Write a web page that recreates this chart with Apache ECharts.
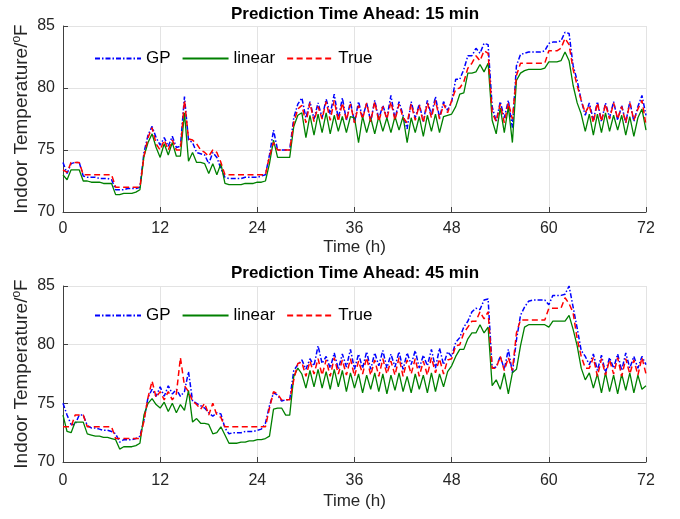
<!DOCTYPE html>
<html>
<head>
<meta charset="utf-8">
<script src="https://cdn.jsdelivr.net/npm/echarts@6/dist/echarts.min.js"></script>
<style>
  html, body { margin: 0; padding: 0; background: #fff; }
  #chart { width: 680px; height: 519px; }
</style>
</head>
<body>
<div id="chart"></div>
<script>
// sampling times (h), one reading every 30 min
const hours = Array.from({ length: 145 }, (_, i) => i * 0.5);
const xTicks = [0, 12, 24, 36, 48, 60, 72];
const yTicks = [70, 75, 80, 85];
const titles = ["Prediction Time Ahead: 15 min", "Prediction Time Ahead: 45 min"];
const seriesNames = ["GP", "linear", "True"];

// 15 min ahead
const gp15 = [
  74.0, 73.1, 73.9, 74.0, 74.0, 72.9, 72.8, 72.8, 72.8, 72.7, 72.7, 72.7,
  72.6, 71.8, 71.8, 71.8, 71.9, 71.9, 71.9, 72.0, 74.8, 76.2, 76.9, 76.0,
  75.4, 76.0, 75.3, 76.1, 75.2, 75.3, 79.3, 75.8, 75.6, 74.8, 74.7, 74.6,
  73.9, 74.8, 74.4, 73.5, 72.8, 72.7, 72.7, 72.7, 72.7, 72.8, 72.8, 72.8,
  72.8, 72.9, 73.0, 74.6, 76.6, 75.0, 75.0, 75.0, 75.0, 77.6, 78.7, 79.2,
  77.6, 78.9, 77.5, 78.8, 77.6, 79.1, 77.9, 79.5, 77.5, 79.2, 77.4, 78.9,
  77.2, 78.9, 77.6, 78.8, 77.3, 79.0, 77.5, 78.6, 77.6, 79.4, 77.5, 78.9,
  77.8, 76.7, 78.9, 77.6, 78.7, 77.3, 79.0, 77.8, 79.3, 77.6, 78.9, 78.2,
  78.9, 80.7, 80.7, 81.5, 82.6, 82.6, 83.2, 82.8, 83.6, 83.5, 78.5, 77.3,
  78.9, 77.6, 79.0, 76.8, 81.8, 82.7, 82.8, 82.9, 82.9, 82.9, 82.9, 83.0,
  83.6, 83.7, 83.7, 83.8, 84.5, 84.4, 81.8, 80.6, 79.0, 77.8, 78.8, 77.4,
  78.9, 77.3, 78.8, 77.6, 78.9, 77.4, 78.6, 77.2, 78.9, 77.3, 78.5, 79.4,
  77.8
];
const linear15 = [
  73.0, 72.6, 73.4, 73.4, 73.4, 72.5, 72.5, 72.4, 72.4, 72.4, 72.3, 72.3,
  72.3, 71.4, 71.4, 71.5, 71.5, 71.5, 71.6, 71.8, 74.5, 75.6, 76.3, 75.2,
  74.4, 75.5, 74.6, 75.6, 74.5, 74.5, 78.0, 74.1, 74.8, 74.0, 74.0, 73.9,
  73.1, 73.9, 73.0, 73.9, 72.3, 72.2, 72.2, 72.2, 72.2, 72.3, 72.3, 72.3,
  72.4, 72.4, 72.5, 73.9, 75.8, 74.4, 74.4, 74.4, 74.4, 76.9, 77.8, 78.0,
  76.0, 77.8, 76.2, 77.9, 76.4, 78.0, 76.3, 77.8, 76.5, 77.7, 76.4, 77.7,
  77.6, 75.6, 77.7, 76.4, 77.6, 76.3, 77.7, 76.5, 77.6, 76.4, 77.7, 76.6,
  77.7, 75.6, 77.6, 76.4, 77.7, 76.1, 77.8, 76.5, 77.9, 76.4, 77.7, 77.8,
  77.9, 78.5, 79.5, 79.6, 81.2, 81.2, 81.3, 81.9, 81.3, 82.0, 77.4, 76.3,
  78.4, 76.4, 78.5, 75.6, 80.6, 81.2, 81.4, 81.5, 81.5, 81.5, 81.5, 81.6,
  82.1, 82.1, 82.1, 82.2, 82.9, 82.2, 80.2, 78.8, 77.9, 76.5, 77.9, 76.2,
  77.9, 76.4, 78.0, 76.5, 77.8, 76.6, 77.8, 76.2, 77.7, 76.1, 77.6, 78.3,
  76.6
];
const true15 = [
  73.4, 73.2, 74.0, 74.0, 74.0, 73.0, 73.0, 73.0, 73.0, 73.0, 73.0, 73.0,
  73.0, 72.0, 72.0, 72.0, 72.0, 72.0, 72.0, 72.0, 74.5, 76.0, 76.8, 75.5,
  75.0, 75.8, 75.0, 75.8, 75.0, 75.0, 79.0, 75.9, 75.8, 75.5, 75.0, 74.8,
  74.5, 75.0, 74.8, 74.0, 73.0, 73.0, 73.0, 73.0, 73.0, 73.0, 73.0, 73.0,
  73.0, 73.0, 73.0, 74.5, 75.6, 75.0, 75.0, 75.0, 75.0, 77.2, 78.3, 78.6,
  77.2, 78.8, 77.3, 78.5, 77.5, 78.9, 77.4, 79.0, 77.3, 78.8, 77.4, 78.7,
  77.2, 78.6, 77.5, 78.8, 77.3, 78.9, 77.3, 78.5, 77.5, 78.9, 77.4, 78.7,
  77.6, 77.2, 78.7, 77.4, 78.6, 77.2, 78.8, 77.6, 79.0, 77.5, 78.7, 78.0,
  79.0, 79.9, 80.0, 80.5, 81.6, 82.0, 82.6, 82.2, 83.0, 82.8, 78.0, 77.3,
  78.7, 77.2, 78.8, 77.5, 81.0, 82.0, 82.0, 82.0, 82.0, 82.0, 82.0, 82.0,
  83.0, 83.0, 83.0, 83.2, 84.0, 83.5, 81.5, 80.2, 79.0, 78.0, 78.6, 77.2,
  78.8, 77.3, 78.7, 77.5, 78.8, 77.5, 78.5, 77.2, 78.8, 77.4, 78.3, 79.0,
  77.0
];

// 45 min ahead
const gp45 = [
  75.0, 74.0, 73.2, 73.2, 74.0, 74.0, 73.1, 72.9, 72.9, 72.8, 72.7, 72.7,
  72.6, 72.4, 71.7, 71.9, 71.9, 71.9, 72.0, 72.2, 73.6, 75.5, 76.2, 75.6,
  76.4, 75.6, 76.5, 75.8, 76.2, 75.6, 76.0, 77.7, 75.2, 75.0, 74.8, 74.6,
  74.2, 73.9, 74.2, 74.1, 72.9, 72.4, 72.5, 72.5, 72.5, 72.6, 72.6, 72.6,
  72.7, 72.8, 73.3, 74.8, 75.9, 75.7, 75.2, 75.3, 75.3, 77.8, 78.3, 78.7,
  77.9, 78.8, 78.2, 79.9, 78.4, 79.0, 78.0, 79.3, 77.9, 79.2, 78.1, 79.6,
  77.9, 79.2, 78.0, 79.4, 77.9, 79.3, 78.2, 79.5, 78.0, 79.2, 78.1, 79.4,
  77.9, 79.3, 78.3, 79.5, 78.0, 79.1, 78.2, 79.6, 78.0, 79.7, 78.3, 79.4,
  79.0, 80.2, 80.6, 81.5, 82.0, 82.8, 83.1, 83.0, 83.8, 83.9, 78.0, 78.1,
  79.0, 77.9, 79.6, 77.6, 80.4, 82.5, 83.2, 83.7, 83.8, 83.8, 83.8, 83.8,
  83.4, 84.2, 84.2, 84.2, 84.3, 85.0, 83.2, 81.4, 79.5, 79.0, 78.3, 79.2,
  77.8, 79.1, 77.6, 78.9, 78.0, 79.2, 77.8, 79.3, 78.0, 79.0, 78.0, 79.0,
  78.3
];
const linear45 = [
  74.0, 72.6, 72.5, 73.4, 73.4, 73.4, 72.4, 72.3, 72.2, 72.2, 72.1, 72.1,
  72.0, 71.9, 71.1, 71.3, 71.3, 71.3, 71.4, 71.6, 74.0, 75.0, 75.4, 74.9,
  74.6, 75.1, 74.3, 75.0, 74.2, 74.9, 74.4, 76.1, 73.4, 73.7, 73.3, 73.3,
  73.2, 72.4, 72.5, 73.0, 72.3, 71.6, 71.6, 71.6, 71.7, 71.7, 71.8, 71.8,
  71.9, 71.9, 72.0, 72.2, 74.5, 74.6, 74.6, 74.0, 74.0, 77.3, 78.0, 77.5,
  76.3, 77.8, 76.4, 77.9, 76.3, 77.7, 76.2, 77.9, 76.4, 77.8, 76.0, 77.6,
  76.3, 77.5, 75.9, 77.4, 76.2, 77.6, 76.0, 77.5, 75.8, 77.4, 76.1, 77.6,
  76.0, 77.3, 75.9, 77.5, 76.2, 77.4, 75.9, 77.6, 76.0, 77.5, 76.4, 77.7,
  78.2, 79.0, 79.6, 79.6, 80.5, 81.0, 81.0, 81.7, 81.0, 81.5, 76.5, 77.0,
  76.2, 77.6, 75.8, 77.6, 77.9, 79.9, 81.5, 81.7, 81.7, 81.7, 81.7, 81.7,
  81.5, 82.0, 82.0, 82.0, 82.0, 82.5, 81.3, 79.9, 78.0, 77.0, 77.6, 76.3,
  77.5, 75.9, 77.6, 76.0, 77.4, 75.8, 77.5, 76.1, 77.6, 75.9, 77.4, 76.2,
  76.5
];
const true45 = [
  73.0, 73.0, 73.0, 74.0, 74.0, 74.0, 73.0, 73.0, 73.0, 73.0, 73.0, 73.0,
  73.0, 72.0, 72.0, 72.0, 72.0, 72.0, 72.0, 72.0, 73.5, 75.5, 76.9, 75.5,
  76.0, 75.3, 76.0, 75.3, 75.8, 78.9, 76.5, 76.0, 75.2, 74.9, 74.5, 75.0,
  74.0, 75.0, 74.0, 73.8, 73.0, 73.0, 73.0, 73.0, 73.0, 73.0, 73.0, 73.0,
  73.0, 73.0, 73.0, 74.6, 76.0, 75.8, 75.3, 75.3, 75.3, 77.0, 78.4, 78.5,
  77.3, 78.6, 77.5, 78.8, 77.4, 78.7, 77.3, 78.9, 77.5, 78.7, 77.4, 78.8,
  77.3, 78.6, 77.5, 78.9, 77.4, 78.7, 77.3, 78.8, 77.5, 78.6, 77.4, 78.9,
  77.3, 78.7, 77.5, 78.8, 77.3, 78.6, 77.4, 78.9, 77.6, 78.8, 77.5, 78.7,
  78.8, 79.9, 80.0, 81.0, 81.5, 82.0, 82.0, 82.8, 82.2, 82.8, 78.0, 78.0,
  79.0, 77.8, 78.9, 77.8, 81.0, 82.1, 82.1, 82.1, 82.1, 82.1, 82.1, 82.1,
  83.1, 83.1, 83.1, 83.1, 84.0, 83.5, 82.7, 80.5, 79.0, 78.0, 78.0, 78.9,
  77.3, 78.8, 77.4, 78.7, 77.5, 78.9, 77.3, 78.8, 77.5, 78.7, 77.4, 78.9,
  77.5
];

const font = "'Liberation Sans', Arial, Helvetica, sans-serif";
const ink = "#262626";
const lineLooks = [
  { color: "#0000ff", width: 1.5, type: [5, 2, 1.5, 2] },
  { color: "#008000", width: 1.3, type: "solid" },
  { color: "#ff0000", width: 1.5, type: [6, 3.5] },
];
const panels = [
  { top: 26, height: 186, legendTop: 45, titleTop: 1, labelMargin: 9, nameGap: 27, sets: [gp15, linear15, true15] },
  { top: 286, height: 176, legendTop: 302, titleTop: 260, labelMargin: 11, nameGap: 31, sets: [gp45, linear45, true45] },
];

const chart = echarts.init(document.getElementById("chart"), null, { renderer: "canvas" });

const pairs = values => hours.map((h, i) => [h, values[i]]);

chart.setOption({
  animation: false,
  backgroundColor: "#fff",
  title: panels.map((p, i) => ({
    text: titles[i], left: 350, top: p.titleTop, textAlign: "center",
    textStyle: { fontFamily: font, fontSize: 17, fontWeight: "bold", color: "#000" },
  })),
  legend: panels.map((p, i) => ({
    data: seriesNames.map(name => name + i),
    formatter: name => name.slice(0, -1),
    left: 89, top: p.legendTop, itemWidth: 46, itemHeight: 12, itemGap: 11,
    itemStyle: { opacity: 0 },
    textStyle: { fontFamily: font, fontSize: 17, color: "#000" },
  })),
  grid: panels.map(p => ({ left: 63, right: 34, top: p.top, height: p.height })),
  xAxis: panels.map((p, i) => ({
    gridIndex: i, type: "value", min: xTicks[0], max: xTicks[xTicks.length - 1], interval: 12,
    name: "Time (h)", nameLocation: "middle", nameGap: p.nameGap,
    nameTextStyle: { fontFamily: font, fontSize: 17, color: ink },
    axisLine: { lineStyle: { color: "#404040", width: 1 } },
    axisTick: { inside: true, length: 5, lineStyle: { color: "#404040" } },
    axisLabel: { fontFamily: font, fontSize: 16, color: ink, margin: p.labelMargin },
    splitLine: { show: true, lineStyle: { color: "#e3e3e3", width: 1 } },
  })),
  yAxis: panels.map((p, i) => ({
    gridIndex: i, type: "value", min: yTicks[0], max: yTicks[yTicks.length - 1], interval: 5,
    name: "{t|Indoor Temperature/}{s|o}{t|F}", nameLocation: "middle", nameGap: 30,
    nameMoveOverlap: false,
    nameTextStyle: {
      rich: {
        t: { fontFamily: font, fontSize: 19, color: ink, lineHeight: 22 },
        s: { fontFamily: font, fontSize: 12, color: ink, verticalAlign: "top", lineHeight: 22 },
      },
    },
    axisLine: { show: true, lineStyle: { color: "#404040", width: 1 } },
    axisTick: { show: true, inside: true, length: 5, lineStyle: { color: "#404040" } },
    axisLabel: { fontFamily: font, fontSize: 16, color: ink, margin: 8 },
    splitLine: { show: true, lineStyle: { color: "#e3e3e3", width: 1 } },
  })),
  series: panels.flatMap((p, i) => p.sets.map((values, k) => ({
    name: seriesNames[k] + i,
    type: "line",
    xAxisIndex: i, yAxisIndex: i,
    data: pairs(values),
    showSymbol: false, symbol: "none",
    lineStyle: lineLooks[k],
    itemStyle: { color: lineLooks[k].color },
    z: 2 + k,
  }))),
});
window.addEventListener("resize", () => chart.resize());
</script>
</body>
</html>
